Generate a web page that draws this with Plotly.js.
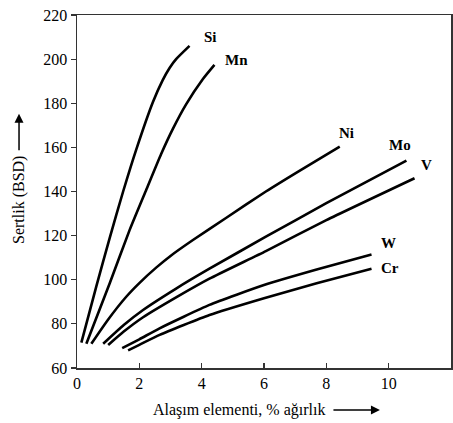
<!DOCTYPE html>
<html>
<head>
<meta charset="utf-8">
<script src="https://cdn.plot.ly/plotly-3.0.1.min.js"></script>
<style>html,body{margin:0;padding:0;background:#fff;}#chart{width:453px;height:423px;}</style>
</head>
<body>
<div id="chart"></div>
<script>
// Alloying element content (% weight) and hardness (BHN) for each element
const siX = [0.14, 0.62, 1.05, 1.48, 1.9, 2.44, 2.75, 2.97, 3.18, 3.61];
const siY = [71.5, 97, 119, 140, 159, 180.7, 190.5, 196, 200, 206];
const mnX = [0.3, 1.05, 1.69, 2.22, 2.7, 3.08, 3.5, 4.04, 4.41];
const mnY = [71, 98.4, 122.6, 140.7, 157, 168.5, 179.5, 191, 197.4];
const niX = [0.46, 1.0, 1.58, 2.0, 2.54, 3.0, 3.72, 4.78, 6.06, 7.15, 8.43];
const niY = [71, 82, 92.3, 98.5, 105.5, 110.8, 118, 128, 140, 149.5, 160.3];
const moX = [0.84, 1.5, 2.12, 3.18, 4.25, 6.06, 8.0, 10.57];
const moY = [71, 79.5, 86.3, 96, 105, 119.5, 134.7, 154];
const vX = [1.0, 1.5, 2.12, 3.18, 4.25, 6.06, 8.0, 10.83];
const vY = [70.4, 76.5, 83, 92, 100.5, 113, 127, 146];
const wX = [1.45, 2.0, 2.65, 4.25, 6.0, 7.69, 9.45];
const wY = [69, 73, 78, 88.6, 97.6, 104.6, 111.5];
const crX = [1.64, 2.0, 2.65, 4.25, 6.0, 7.69, 9.45];
const crY = [68, 70.5, 75, 84, 91.6, 98.4, 105];

const labelNames = ['Si', 'Mn', 'Ni', 'Mo', 'V', 'W', 'Cr'];
const labelX = [4.27, 5.13, 8.65, 10.35, 11.2, 9.98, 10.03];
const labelY = [210, 199.6, 166.4, 161, 152, 116.8, 105.2];

const xTitle = 'Alaşım elementi, % ağırlık';
const yTitle = 'Sertlik (BSD)';

const series = [[siX, siY], [mnX, mnY], [niX, niY], [moX, moY], [vX, vY], [wX, wY], [crX, crY]];
const traces = series.map((s, i) => ({
  x: s[0], y: s[1], type: 'scatter', mode: 'lines', name: labelNames[i],
  line: {color: '#000', width: 2.6, shape: 'spline', smoothing: 0.5},
  hoverinfo: 'skip'
}));

const serif = 'Liberation Serif';
const annotations = labelNames.map((n, i) => ({
  x: labelX[i], y: labelY[i], xref: 'x', yref: 'y', text: '<b>' + n + '</b>',
  showarrow: false, font: {family: serif, size: 15, color: '#000'}
}));
// x title + arrow
annotations.push({x: 0.434, y: -0.119, xref: 'paper', yref: 'paper', yanchor: 'middle', xanchor: 'center',
  text: xTitle, showarrow: false, font: {family: serif, size: 16, color: '#000'}});
annotations.push({x: 0.81, y: -0.119, xref: 'paper', yref: 'paper', ax: -48, ay: 0,
  text: '', showarrow: true, arrowhead: 2, arrowsize: 1.2, arrowwidth: 1.5, arrowcolor: '#000'});
// y title + arrow
annotations.push({x: -0.155, y: 0.476, xref: 'paper', yref: 'paper', xanchor: 'center', yanchor: 'middle',
  text: yTitle, textangle: -90, showarrow: false, font: {family: serif, size: 16, color: '#000'}});
annotations.push({x: -0.155, y: 0.72, xref: 'paper', yref: 'paper', ax: 0, ay: 38,
  text: '', showarrow: true, arrowhead: 2, arrowsize: 1.2, arrowwidth: 1.5, arrowcolor: '#000'});

const layout = {
  width: 453, height: 423,
  margin: {l: 76.5, r: 2, t: 15, b: 55},
  paper_bgcolor: '#fff', plot_bgcolor: '#fff',
  showlegend: false,
  font: {family: serif, size: 16, color: '#000'},
  xaxis: {range: [0, 12], dtick: 2, tick0: 0, showgrid: false, zeroline: false,
    showline: true, linecolor: '#333', linewidth: 1.5, mirror: true,
    ticks: 'inside', ticklen: 5, tickcolor: '#333', tickwidth: 1.2,
    tickfont: {family: serif, size: 16, color: '#000'}, fixedrange: true},
  yaxis: {range: [60, 220], dtick: 20, tick0: 60, showgrid: false, zeroline: false,
    showline: true, linecolor: '#333', linewidth: 1.5, mirror: true,
    ticks: 'outside', ticklen: 5, tickcolor: '#333', tickwidth: 1.2,
    tickfont: {family: serif, size: 16, color: '#000'}, fixedrange: true},
  annotations: annotations
};

Plotly.newPlot('chart', traces, layout, {displayModeBar: false, staticPlot: true});
</script>
</body>
</html>
